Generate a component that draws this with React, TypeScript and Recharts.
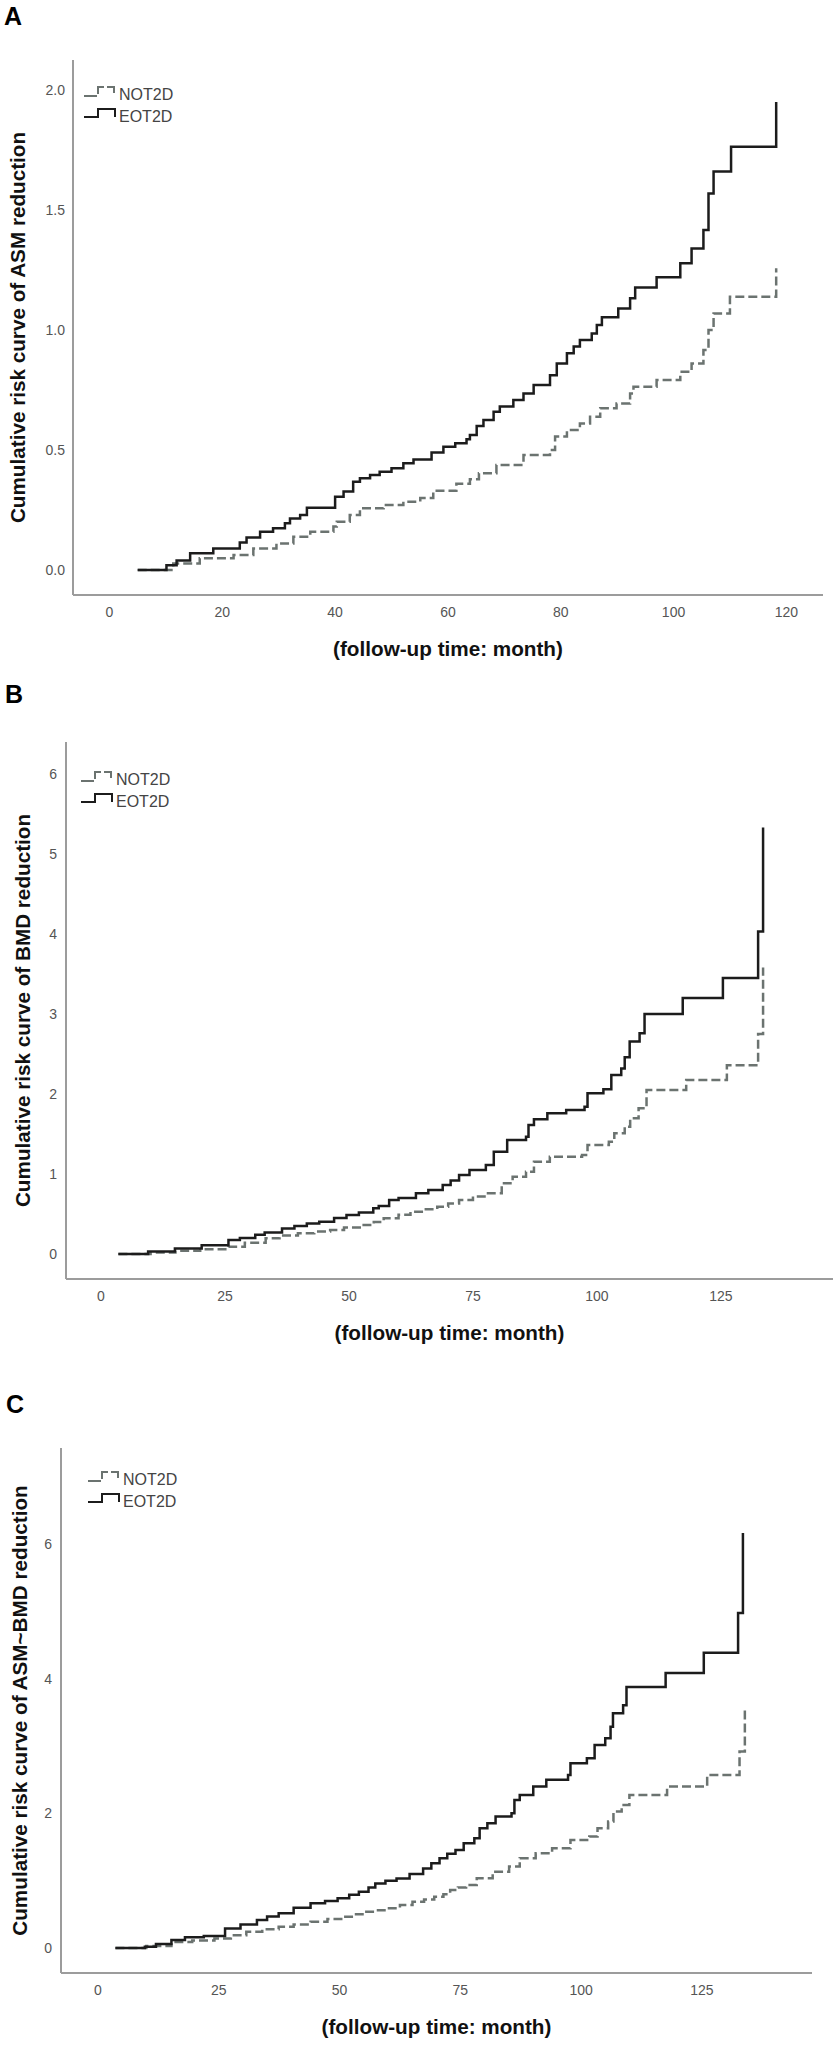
import React from 'react';
import { LineChart, Line, XAxis, YAxis, Legend } from 'recharts';

type Pt = [number, number];

// ---------- Panel A: ASM reduction ----------
const asmNOT2D: Pt[] = [
  [5, 0], [11.3, 0.027], [16, 0.049], [22, 0.063], [25.5, 0.09], [29.6, 0.111], [32.6, 0.139],
  [35.6, 0.16], [39.7, 0.181], [40.3, 0.201], [42.6, 0.229], [44.4, 0.257], [48.6, 0.271],
  [52.1, 0.285], [55.1, 0.3], [57.4, 0.33], [61.5, 0.36], [63.9, 0.378], [65.5, 0.403],
  [68.6, 0.438], [73.4, 0.479], [78.1, 0.5], [79, 0.556], [81.1, 0.583], [83.4, 0.611],
  [85.2, 0.639], [87, 0.674], [89.9, 0.694], [92.3, 0.736], [92.9, 0.764], [97, 0.792],
  [101.2, 0.826], [103.2, 0.861], [105.3, 0.917], [106.2, 1.0], [107.1, 1.069], [110, 1.139],
  [118.2, 1.257],
];
const asmEOT2D: Pt[] = [
  [5, 0], [10.1, 0.02], [11.9, 0.04], [14.3, 0.07], [18.4, 0.09], [23.1, 0.115], [24.3, 0.136],
  [26.7, 0.16], [29, 0.174], [31.1, 0.195], [32, 0.215], [33.8, 0.229], [35, 0.26], [40, 0.305],
  [41.5, 0.327], [43.2, 0.368], [44.4, 0.382], [46.2, 0.396], [47.9, 0.41], [50, 0.424],
  [52.1, 0.445], [53.9, 0.461], [57.1, 0.49], [59.2, 0.514], [61.3, 0.528], [63.3, 0.545],
  [63.9, 0.563], [65.1, 0.6], [66.3, 0.625], [68.1, 0.66], [69.2, 0.681], [71.6, 0.708],
  [73.4, 0.736], [75.2, 0.771], [78.1, 0.812], [79.3, 0.861], [81.1, 0.903], [82.3, 0.931],
  [83.4, 0.958], [85.5, 0.986], [86.4, 1.021], [87.3, 1.053], [90.2, 1.09], [92.3, 1.132],
  [93.2, 1.177], [97, 1.22], [101.2, 1.278], [103.2, 1.34], [105.3, 1.417], [106.2, 1.569],
  [107.1, 1.66], [110.2, 1.764], [118.2, 1.95],
];
const asmXTicks = [0, 20, 40, 60, 80, 100, 120];
const asmYTicks = [0, 0.5, 1, 1.5, 2];

// ---------- Panel B: BMD reduction ----------
const bmdNOT2D: Pt[] = [
  [3.5, 0], [10, 0.02], [15, 0.04], [20, 0.06], [25.7, 0.09], [29, 0.14], [33.2, 0.196],
  [36, 0.23], [39.7, 0.258], [43, 0.28], [46.2, 0.3], [49, 0.33], [52.7, 0.362], [55, 0.4],
  [57, 0.446], [60, 0.49], [62.4, 0.529], [65, 0.56], [67.8, 0.592], [70, 0.63], [72.2, 0.675],
  [75, 0.72], [77.6, 0.758], [80.8, 0.883], [83, 0.967], [85.7, 1.029], [87.3, 1.154],
  [90.5, 1.217], [97, 1.238], [98.1, 1.363], [102.4, 1.404], [103.5, 1.508], [105.6, 1.592],
  [106.7, 1.696], [108.4, 1.821], [110, 2.05], [118, 2.175], [126.2, 2.36], [132.5, 2.75],
  [133.5, 3.58],
];
const bmdEOT2D: Pt[] = [
  [3.5, 0], [9.5, 0.03], [14.9, 0.07], [20.3, 0.11], [25.7, 0.175], [28, 0.2], [31.1, 0.24],
  [33, 0.27], [36.5, 0.32], [39, 0.35], [41.5, 0.38], [44, 0.404], [47, 0.45], [49.5, 0.488],
  [52, 0.52], [54.9, 0.571], [56, 0.6], [58.1, 0.675], [60, 0.7], [63.5, 0.758], [66, 0.8],
  [68.9, 0.863], [70.5, 0.92], [72.2, 0.988], [74.3, 1.05], [77.6, 1.113], [79.2, 1.279],
  [81.9, 1.425], [85.7, 1.467], [86.2, 1.613], [87.3, 1.683], [90, 1.758], [93.8, 1.8],
  [97.5, 1.842], [98.1, 2.008], [101.3, 2.058], [102.9, 2.238], [104.9, 2.32], [105.6, 2.46],
  [106.6, 2.655], [108.6, 2.758], [109.6, 3.0], [117.3, 3.2], [125.4, 3.45], [132.5, 4.03],
  [133.5, 5.33],
];
const bmdXTicks = [0, 25, 50, 75, 100, 125];
const bmdYTicks = [0, 1, 2, 3, 4, 5, 6];

// ---------- Panel C: ASM~BMD reduction ----------
const bothNOT2D: Pt[] = [
  [3.6, 0], [10, 0.03], [15.2, 0.09], [19.5, 0.11], [24.1, 0.14], [27.5, 0.19], [30.7, 0.24],
  [34, 0.28], [37.4, 0.317], [40.5, 0.35], [44, 0.39], [47.5, 0.43], [50.7, 0.466], [53, 0.5],
  [55.1, 0.54], [57.5, 0.56], [59.6, 0.59], [62.5, 0.64], [65.1, 0.689], [67.5, 0.72],
  [69.6, 0.763], [71.5, 0.8], [72.9, 0.862], [74.5, 0.9], [76.2, 0.937], [78.4, 1.036],
  [81.7, 1.135], [85.1, 1.21], [87.3, 1.334], [90.6, 1.408], [94, 1.482], [97.8, 1.606],
  [101.7, 1.656], [103.4, 1.78], [105.6, 1.88], [106.7, 2.03], [108.4, 2.127], [110, 2.275],
  [117.8, 2.4], [126.1, 2.573], [132.8, 2.92], [133.9, 3.59],
];
const bothEOT2D: Pt[] = [
  [3.6, 0], [9.7, 0.02], [12, 0.06], [15.2, 0.12], [18, 0.16], [21.9, 0.18], [26.3, 0.29],
  [29.5, 0.35], [32.9, 0.416], [35, 0.47], [37.4, 0.515], [40.5, 0.6], [44, 0.664], [47, 0.7],
  [49.6, 0.738], [52, 0.79], [54, 0.838], [56, 0.9], [57.4, 0.96], [59.5, 1.0], [61.8, 1.035],
  [64.5, 1.1], [67.3, 1.183], [69, 1.26], [70.7, 1.333], [72.3, 1.4], [74, 1.457],
  [75.7, 1.557], [77.9, 1.63], [79, 1.78], [80.6, 1.855], [82.3, 1.954], [85.6, 2.004],
  [86.2, 2.2], [87.3, 2.275], [90.1, 2.4], [92.8, 2.5], [97.3, 2.573], [97.8, 2.747],
  [101.2, 2.82], [102.8, 3.02], [105, 3.12], [106.1, 3.29], [106.6, 3.49], [108.7, 3.61],
  [109.4, 3.88], [117.5, 4.09], [125.4, 4.39], [132.5, 4.98], [133.5, 6.17],
];
const bothXTicks = [0, 25, 50, 75, 100, 125];
const bothYTicks = [0, 2, 4, 6];

const seriesNames = ['NOT2D', 'EOT2D'];
const panelLetters = ['A', 'B', 'C'];
const xTitle = '(follow-up time: month)';
const yTitles = [
  'Cumulative risk curve of ASM reduction',
  'Cumulative risk curve of BMD reduction',
  'Cumulative risk curve of ASM~BMD reduction',
];

const FONT = "'Liberation Sans', Arial, Helvetica, sans-serif";
const DASH_COLOR = '#6b7370';
const SOLID_COLOR = '#1c1c1c';
const AXIS_COLOR = '#9c9c9c';
const TICK_COLOR = '#555555';

const toRows = (pts: Pt[]) => pts.map(([t, v]) => ({ t, v }));

const makeYTitle = (text: string, baselineX: number) => (props: any) => {
  const vb = props.viewBox || {};
  const cx = (vb.x || 0) + baselineX;
  const cy = (vb.y || 0) + (vb.height || 0) / 2;
  return (
    <text
      x={cx}
      y={cy}
      transform={`rotate(-90 ${cx} ${cy})`}
      textAnchor="middle"
      fontFamily={FONT}
      fontSize={20.7}
      fontWeight="bold"
      fill="#111"
    >
      {text}
    </text>
  );
};

const makeXTitle = (text: string, baselineDy: number) => (props: any) => {
  const vb = props.viewBox || {};
  const cx = (vb.x || 0) + (vb.width || 0) / 2;
  const cy = (vb.y || 0) + baselineDy;
  return (
    <text x={cx} y={cy} textAnchor="middle" fontFamily={FONT} fontSize={20.7} fontWeight="bold" fill="#111">
      {text}
    </text>
  );
};

const LegendBox = () => (
  <svg width={110} height={44} style={{ display: 'block', overflow: 'visible' }}>
    <path
      d="M1,12 H15 V3 H31 V12"
      fill="none"
      stroke={DASH_COLOR}
      strokeWidth={2}
      strokeDasharray="13 3"
    />
    <text x={36} y={16} fontFamily={FONT} fontSize={16} fill="#444">
      {seriesNames[0]}
    </text>
    <path d="M1,33 H15 V25 H32 V33" fill="none" stroke={SOLID_COLOR} strokeWidth={2} />
    <text x={36} y={38} fontFamily={FONT} fontSize={16} fill="#444">
      {seriesNames[1]}
    </text>
  </svg>
);

interface PanelProps {
  top: number;
  height: number;
  plotTop: number;
  plotBottom: number;
  yAxisWidth: number;
  right: number;
  xDomain: [number, number];
  yDomain: [number, number];
  xTicks: number[];
  yTicks: number[];
  yFmt: (v: number) => string;
  yTickMargin: number;
  yTitle: string;
  yTitleX: number;
  not2d: Pt[];
  eot2d: Pt[];
  legendLeft: number;
  legendTop: number;
}

const Panel = (p: PanelProps) => {
  const xAxisHeight = 30;
  const margin = {
    top: p.plotTop,
    right: p.right,
    left: 0,
    bottom: p.height - p.plotBottom - xAxisHeight,
  };
  return (
    <div style={{ position: 'absolute', left: 0, top: p.top }}>
      <LineChart width={837} height={p.height} margin={margin}>
        <XAxis
          dataKey="t"
          type="number"
          domain={p.xDomain}
          ticks={p.xTicks}
          allowDataOverflow
          height={xAxisHeight}
          tickLine={false}
          tickSize={6}
          tickMargin={6}
          axisLine={{ stroke: AXIS_COLOR, strokeWidth: 2 }}
          tick={{ fill: TICK_COLOR, fontSize: 14, fontFamily: FONT }}
          label={makeXTitle(xTitle, 61)}
        />
        <YAxis
          dataKey="v"
          type="number"
          domain={p.yDomain}
          ticks={p.yTicks}
          allowDataOverflow
          width={p.yAxisWidth}
          tickLine={false}
          tickSize={6}
          tickMargin={p.yTickMargin}
          tickFormatter={p.yFmt}
          axisLine={{ stroke: AXIS_COLOR, strokeWidth: 2 }}
          tick={{ fill: TICK_COLOR, fontSize: 14, fontFamily: FONT }}
          label={makeYTitle(p.yTitle, p.yTitleX)}
        />
        <Legend
          layout="vertical"
          align="center"
          verticalAlign="middle"
          content={() => <LegendBox />}
          wrapperStyle={{ position: 'absolute', left: p.legendLeft, top: p.legendTop, width: 110, height: 44 }}
        />
        <Line
          name={seriesNames[0]}
          data={toRows(p.not2d)}
          dataKey="v"
          type="stepAfter"
          stroke={DASH_COLOR}
          strokeWidth={2.5}
          strokeDasharray="9 4"
          dot={false}
          activeDot={false}
          isAnimationActive={false}
        />
        <Line
          name={seriesNames[1]}
          data={toRows(p.eot2d)}
          dataKey="v"
          type="stepAfter"
          stroke={SOLID_COLOR}
          strokeWidth={2.5}
          dot={false}
          activeDot={false}
          isAnimationActive={false}
        />
      </LineChart>
    </div>
  );
};

export default function App() {
  return (
    <div style={{ position: 'relative', width: 837, height: 2046, background: '#fff', fontFamily: FONT }}>
      <style>{`body{margin:0;background:#fff;}`}</style>
      <Panel
        top={0}
        height={680}
        plotTop={60}
        plotBottom={595}
        yAxisWidth={73}
        right={14}
        xDomain={[-6.47, 126.5]}
        yDomain={[-0.104, 2.125]}
        xTicks={asmXTicks}
        yTicks={asmYTicks}
        yFmt={(v) => v.toFixed(1)}
        yTickMargin={2}
        yTitle={yTitles[0]}
        yTitleX={25}
        not2d={asmNOT2D}
        eot2d={asmEOT2D}
        legendLeft={83}
        legendTop={84}
      />
      <Panel
        top={680}
        height={680}
        plotTop={62}
        plotBottom={599}
        yAxisWidth={66}
        right={4}
        xDomain={[-7.06, 147.6]}
        yDomain={[-0.3125, 6.4]}
        xTicks={bmdXTicks}
        yTicks={bmdYTicks}
        yFmt={(v) => String(v)}
        yTickMargin={3}
        yTitle={yTitles[1]}
        yTitleX={30}
        not2d={bmdNOT2D}
        eot2d={bmdEOT2D}
        legendLeft={80}
        legendTop={89}
      />
      <Panel
        top={1360}
        height={686}
        plotTop={88}
        plotBottom={613}
        yAxisWidth={61}
        right={25}
        xDomain={[-7.66, 147.8]}
        yDomain={[-0.372, 7.435]}
        xTicks={bothXTicks}
        yTicks={bothYTicks}
        yFmt={(v) => String(v)}
        yTickMargin={3}
        yTitle={yTitles[2]}
        yTitleX={27}
        not2d={bothNOT2D}
        eot2d={bothEOT2D}
        legendLeft={87}
        legendTop={109}
      />
      <svg
        width={837}
        height={2046}
        style={{ position: 'absolute', left: 0, top: 0, pointerEvents: 'none' }}
      >
        <text x={4} y={25} fontFamily={FONT} fontSize={25} fontWeight="bold" fill="#000">
          {panelLetters[0]}
        </text>
        <text x={5} y={703} fontFamily={FONT} fontSize={25} fontWeight="bold" fill="#000">
          {panelLetters[1]}
        </text>
        <text x={6} y={1413} fontFamily={FONT} fontSize={25} fontWeight="bold" fill="#000">
          {panelLetters[2]}
        </text>
      </svg>
    </div>
  );
}
